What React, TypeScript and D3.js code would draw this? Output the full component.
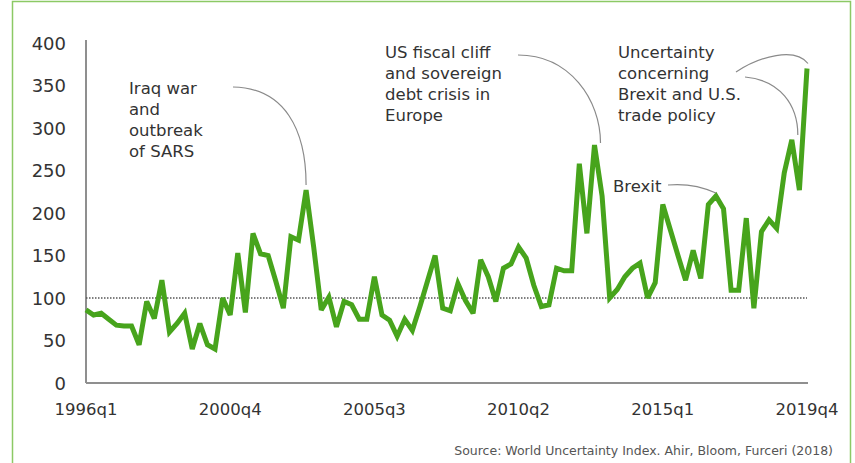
import React from "react";
import * as d3 from "d3";

const values: number[] = [
  86, 80, 82, 75, 68, 67, 67, 45, 96, 76,
  121, 60, 70, 82, 40, 70, 45, 40, 100, 80,
  153, 83, 176, 152, 150, 120, 88, 172, 168, 227,
  160, 86, 101, 66, 96, 92, 75, 75, 125, 80,
  74, 55, 75, 62, 90, 120, 150, 88, 85, 117,
  97, 82, 145, 125, 96, 135, 140, 160, 147, 115,
  90, 92, 135, 132, 132, 258, 176, 280, 220, 100,
  110, 125, 135, 141, 100, 118, 210, 180, 150, 121,
  156, 123, 210, 220, 205, 109, 109, 194, 88, 178,
  192, 182, 247, 286, 227, 370,
];

const startYear = 1996;
const quarters: string[] = values.map((_, i) => `${startYear + Math.floor(i / 4)}q${(i % 4) + 1}`);
const xTickLabels: string[] = ["1996q1", "2000q4", "2005q3", "2010q2", "2015q1", "2019q4"];
const yTicks: number[] = [0, 50, 100, 150, 200, 250, 300, 350, 400];
const baseline = 100;

const annIraq: string[] = ["Iraq war", "and", "outbreak", "of SARS"];
const annUS: string[] = ["US fiscal cliff", "and sovereign", "debt crisis in", "Europe"];
const annBrexit: string[] = ["Brexit"];
const annTrade: string[] = ["Uncertainty", "concerning", "Brexit and U.S.", "trade policy"];
const sourceText = "Source: World Uncertainty Index. Ahir, Bloom, Furceri (2018)";

export default function App() {
  const W = 855, H = 463;
  const x = d3.scaleLinear().domain([0, values.length - 1]).range([86, 807]);
  const y = d3.scaleLinear().domain([0, 400]).range([383, 43]);
  const line = d3.line<number>().x((_, i) => x(i)).y((d) => y(d));
  const font = "'DejaVu Sans', 'Liberation Sans', Arial, sans-serif";
  const textFill = "#333";
  const annSize = 16.5;
  const lh = 21;

  const block = (lines: string[], x0: number, y0: number) =>
    lines.map((t, i) => (
      <text key={t + i} x={x0} y={y0 + i * lh} fontSize={annSize} fill={textFill} fontFamily={font}>
        {t}
      </text>
    ));

  const iI = 29, iU = 67, iB = 83, iT1 = 95, iT2 = 93;

  return (
    <svg width={W} height={H} style={{ position: "absolute", left: 0, top: 0, background: "#fff" }}>
      <rect x={12.5} y={1.5} width={838} height={470} fill="#fff" stroke="#8cc965" strokeWidth={1.5} />
      {/* axes */}
      <line x1={x(0)} x2={x(0)} y1={y(400) - 3} y2={y(0)} stroke="#8f8f8f" strokeWidth={2} />
      <line x1={x(0)} x2={x(values.length - 1) + 1} y1={y(0)} y2={y(0)} stroke="#8f8f8f" strokeWidth={2} />
      {yTicks.map((t) => (
        <text key={t} x={66} y={y(t) + 6.5} textAnchor="end" fontSize={18} fill={textFill} fontFamily={font}>
          {t}
        </text>
      ))}
      {xTickLabels.map((lab) => {
        const i = quarters.indexOf(lab);
        return (
          <text key={lab} x={x(i)} y={415} textAnchor="middle" fontSize={16.5} fill={textFill} fontFamily={font}>
            {lab}
          </text>
        );
      })}
      {/* baseline */}
      <line x1={x(0)} x2={x(values.length - 1)} y1={y(baseline)} y2={y(baseline)} stroke="#555" strokeWidth={1.5} strokeDasharray="1.5 1.5" />
      {/* series */}
      <path d={line(values) || ""} fill="none" stroke="#47a41c" strokeWidth={5} strokeLinejoin="miter" strokeMiterlimit={3} />
      {/* connectors */}
      <g fill="none" stroke="#8a8a8a" strokeWidth={1.2}>
        <path d={`M233,87 C285,88 ${x(iI)},130 ${x(iI)},${y(values[iI]) - 5}`} />
        <path d={`M518,55 C570,55 ${x(iU) + 6},100 ${x(iU) + 6},${y(values[iU]) - 2}`} />
        <path d={`M668,185 C690,183 705,188 ${x(iB)},${y(values[iB]) - 3}`} />
        <path d={`M736,72 C760,56 795,47 ${x(iT1) + 1},${y(values[iT1]) - 5}`} />
        <path d={`M745,77 C780,80 ${x(iT2) + 6},105 ${x(iT2) + 6},${y(values[iT2]) - 5}`} />
      </g>
      {block(annIraq, 129, 94)}
      {block(annUS, 385, 58)}
      {block(annBrexit, 613, 192)}
      {block(annTrade, 618, 58)}
      <text x={833} y={455} textAnchor="end" fontSize={12.5} fill="#555" fontFamily={font}>
        {sourceText}
      </text>
    </svg>
  );
}
